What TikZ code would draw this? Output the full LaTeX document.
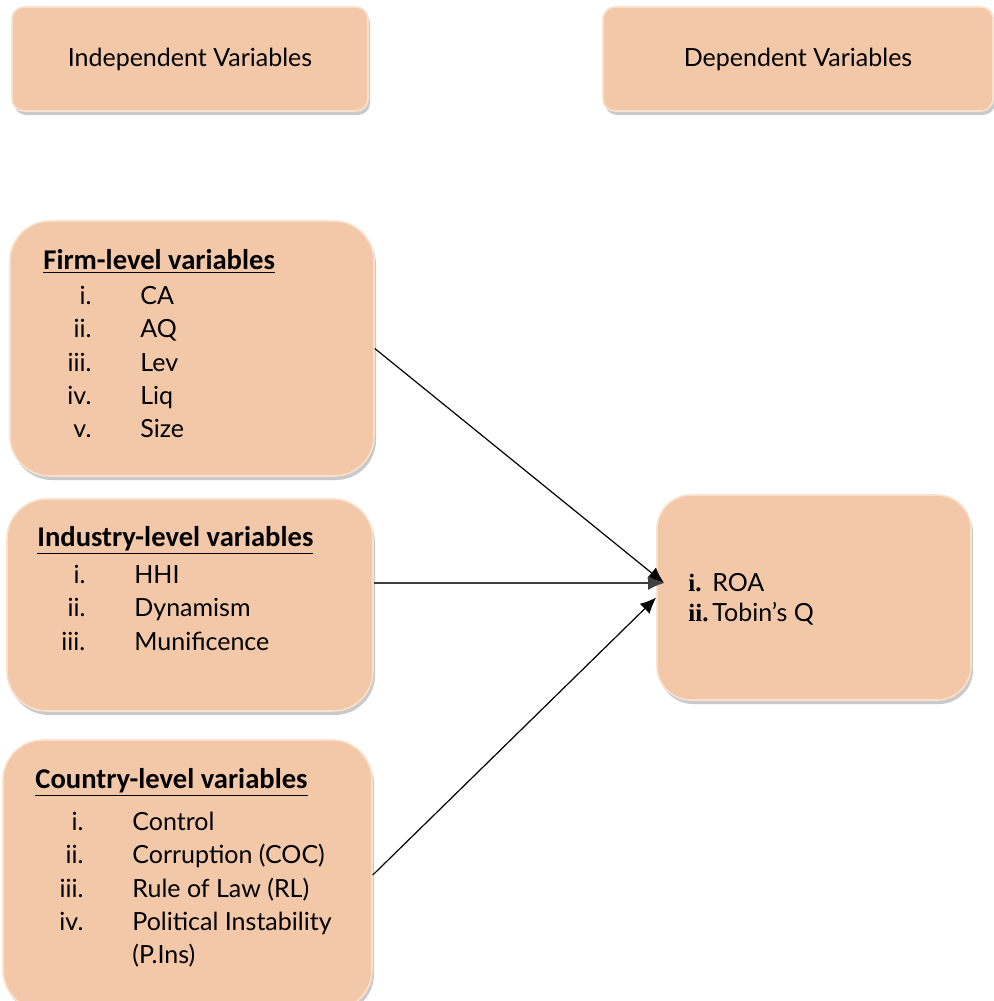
\documentclass[tikz,border=0pt]{standalone}
\usepackage{fontspec}
\setmainfont{Lato}
\newfontfamily\headfont{Carlito}
\newfontfamily\numfont{Liberation Serif}
\usepackage{tikz}
\usetikzlibrary{arrows.meta, positioning, shadows}
\usepackage{xcolor}
\definecolor{vpeach}{RGB}{243,200,168}
\definecolor{vrim}{RGB}{250,225,205}
\newcommand{\itm}[2]{\makebox[24pt][r]{#1}\hspace{24.5pt}#2}
\newcommand{\lvlhead}[1]{{\headfont\bfseries\fontsize{14.3}{16.6}\selectfont\underline{#1}}}
\tikzset{
    varbox/.style={draw=vrim, line width=0.8pt, fill=vpeach, rounded corners=20pt,
                   drop shadow={shadow xshift=1pt, shadow yshift=-2pt, opacity=0.35, fill=black!60}},
    headbox/.style={varbox, rounded corners=6pt, font=\fontsize{12.5}{14}\selectfont, align=center},
    listtxt/.style={anchor=north west, inner sep=0pt, align=left,
                    font=\fontsize{12.5}{16.6}\selectfont},
    arrow/.style={-{Latex[length=8pt, width=7pt]}, line width=0.6pt, black},
}
\begin{document}
\begin{tikzpicture}[x=0.5pt, y=-0.5pt]
    \useasboundingbox (0,0) rectangle (994,1001);
    \node[headbox, minimum width=178pt, minimum height=52pt] (indep) at (190,59) {Independent Variables};
    \node[headbox, minimum width=195pt, minimum height=52pt] (dep) at (798,59) {Dependent Variables};
    \node[varbox, minimum width=182pt, minimum height=127.5pt] (firm) at (192,348.5) {};
    \node[varbox, minimum width=183pt, minimum height=106pt] (industry) at (190,605) {};
    \node[varbox, minimum width=184.5pt, minimum height=135pt] (country) at (187.5,875) {};
    \node[varbox, rounded corners=17pt, minimum width=157pt, minimum height=102.5pt] (outcome) at (814,597.5) {};
    \node[listtxt] (firmtxt) at (43,249) {\lvlhead{Firm-level variables}\\[1pt]
        \itm{i.}{CA}\\ \itm{ii.}{AQ}\\ \itm{iii.}{Lev}\\ \itm{iv.}{Liq}\\ \itm{v.}{Size}};
    \node[listtxt] (industrytxt) at (37,526) {\lvlhead{Industry-level variables}\\[2pt]
        \itm{i.}{HHI}\\ \itm{ii.}{Dynamism}\\ \itm{iii.}{Munificence}};
    \node[listtxt] (countrytxt) at (35,768) {\lvlhead{Country-level variables}\\[4.5pt]
        \itm{i.}{Control}\\ \itm{ii.}{Corruption (COC)}\\ \itm{iii.}{Rule of Law (RL)}\\
        \itm{iv.}{Political Instability}\\ \itm{}{(P.Ins)}};
    \node[listtxt, font=\fontsize{12.5}{15}\selectfont] (outcometxt) at (688,573) {%
        \makebox[12pt][l]{\numfont\bfseries i.}ROA\\
        \makebox[12pt][l]{\numfont\bfseries ii.}Tobin's Q};
    \coordinate (hit) at (664,583);
    \draw[arrow] (firm.east) -- (hit);
    \draw[arrow, black!75] (industry.east |- hit) -- (hit);
    \draw[arrow] (country.east) -- (outcome.west);
\end{tikzpicture}
\end{document}
